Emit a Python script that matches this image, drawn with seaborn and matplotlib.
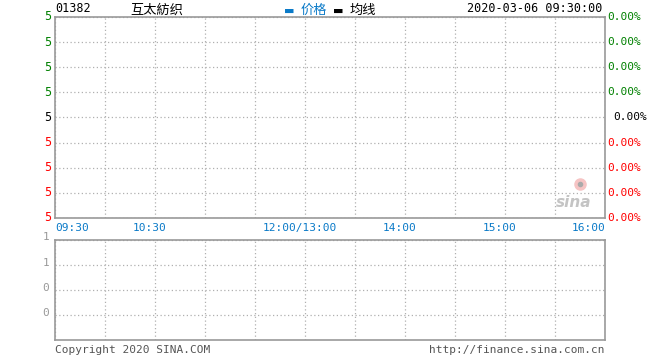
import matplotlib
matplotlib.use("Agg")
import matplotlib.pyplot as plt
import seaborn as sns

# chart data
code = "01382"
name = "互太紡织"
stamp = "2020-03-06 09:30:00"
time_ticks = [0, 60, 150, 210, 270, 330]          # minutes since 09:30 (lunch removed)
time_labels = ["09:30", "10:30", "12:00/13:00", "14:00", "15:00", "16:00"]
price_labels = ["5", "5", "5", "5", "5", "5", "5", "5", "5"]  # top to bottom
pct_labels = ["0.00%"] * 9
label_colors = ["#008000"] * 4 + ["#000000"] + ["#ff0000"] * 4
vol_labels = ["1", "1", "0", "0"]                # top to bottom
price = []
avg_price = []
volume = []

sns.set_style("white")
plt.rcParams["font.family"] = ["DejaVu Sans Mono", "Noto Sans CJK SC"]

W, H = 660, 360
fig = plt.figure(figsize=(6.6, 3.6), dpi=100)
grid_kw = dict(color="#b0b0b0", linestyle=(0, (1, 2)), linewidth=0.9)
spine_c = "#999999"
blue = "#0a7ac8"

ax = fig.add_axes([55 / W, 1 - 218 / H, 550 / W, 201 / H])
ax2 = fig.add_axes([55 / W, 1 - 340 / H, 550 / W, 100 / H])

for a in (ax, ax2):
    a.set_xlim(0, 330)
    a.set_xticks(range(0, 331, 30))
    a.xaxis.grid(True, **grid_kw)
    a.yaxis.grid(True, **grid_kw)
    a.tick_params(length=0)
    for s in a.spines.values():
        s.set_color(spine_c)
        s.set_linewidth(1.2)
    a.set_axisbelow(True)

# price panel
ax.plot(range(len(price)), price, color=blue, lw=1)
ax.plot(range(len(avg_price)), avg_price, color="black", lw=1)
ax.set_ylim(0, 8)
ax.set_yticks(range(9))
ax.set_yticklabels([])
ax.set_xticklabels([])
ytr = ax.get_yaxis_transform()
for i, (lab, col) in enumerate(zip(price_labels, label_colors)):
    y = 8 - i
    ax.annotate(lab, xy=(0, y), xycoords=ytr, xytext=(-3, 0), textcoords="offset points",
                ha="right", va="center", color=col, fontsize=8.5, annotation_clip=False)
for i, (lab, col) in enumerate(zip(pct_labels, label_colors)):
    y = 8 - i
    off = 6 if i == 4 else 1.5
    ax.annotate(lab, xy=(1, y), xycoords=ytr, xytext=(off, 0), textcoords="offset points",
                ha="left", va="center", color=col, fontsize=8, annotation_clip=False)
for t, lab in zip(time_ticks, time_labels):
    ha = "left" if t == 0 else ("right" if t == 330 else "center")
    xt = t if ha != "center" else t - 3
    ax.text(xt, -0.05, lab, transform=ax.get_xaxis_transform(), ha=ha, va="center",
            color=blue, fontsize=8, clip_on=False)

# watermark
ax.text(0.975, 0.075, "sina", transform=ax.transAxes, ha="right", va="center",
        fontsize=11, fontstyle="italic", fontweight="bold", color="#c4c4c4",
        family="DejaVu Sans")
ax.plot([0.955], [0.17], marker="o", ms=8, color="#f6c4c4", transform=ax.transAxes,
        clip_on=False)
ax.plot([0.955], [0.17], marker="o", ms=3, color="#aaaaaa", transform=ax.transAxes,
        clip_on=False)

# volume panel
ax2.bar(range(len(volume)), volume, color=blue)
ax2.set_ylim(0, 4)
ax2.set_yticks([1, 2, 3, 4])
ax2.set_yticklabels([])
ax2.set_xticklabels([])
ytr2 = ax2.get_yaxis_transform()
for i, lab in enumerate(vol_labels):
    y = 4 - i
    ax2.annotate(lab, xy=(0, y), xycoords=ytr2, xytext=(-4, 2 if i == 0 else 1.5),
                 textcoords="offset points", ha="right", va="center", color="#999999",
                 fontsize=8, annotation_clip=False)

# header
fig.text(55 / W, 1 - 9 / H, code, ha="left", va="center", fontsize=8.5, color="black")
fig.text(130 / W, 1 - 10 / H, name, ha="left", va="center", fontsize=9.5, color="black",
         family=["Noto Sans CJK SC", "DejaVu Sans"])
fig.text(284 / W, 1 - 11 / H, "▬", ha="left", va="center", fontsize=8, color=blue,
         family="DejaVu Sans")
fig.text(301 / W, 1 - 10 / H, "价格", ha="left", va="center", fontsize=9.5, color=blue,
         family=["Noto Sans CJK SC", "DejaVu Sans"])
fig.text(333 / W, 1 - 11 / H, "▬", ha="left", va="center", fontsize=8, color="black",
         family="DejaVu Sans")
fig.text(350 / W, 1 - 10 / H, "均线", ha="left", va="center", fontsize=9.5, color="black",
         family=["Noto Sans CJK SC", "DejaVu Sans"])
fig.text(602 / W, 1 - 9 / H, stamp, ha="right", va="center", fontsize=8.5, color="black")

# footer
fig.text(55 / W, 1 - 350 / H, "Copyright 2020 SINA.COM", ha="left", va="center",
         fontsize=8, color="#555555")
fig.text(605 / W, 1 - 350 / H, "http://finance.sina.com.cn", ha="right", va="center",
         fontsize=8, color="#555555")

fig.savefig("out.png", dpi=100, facecolor="white")
